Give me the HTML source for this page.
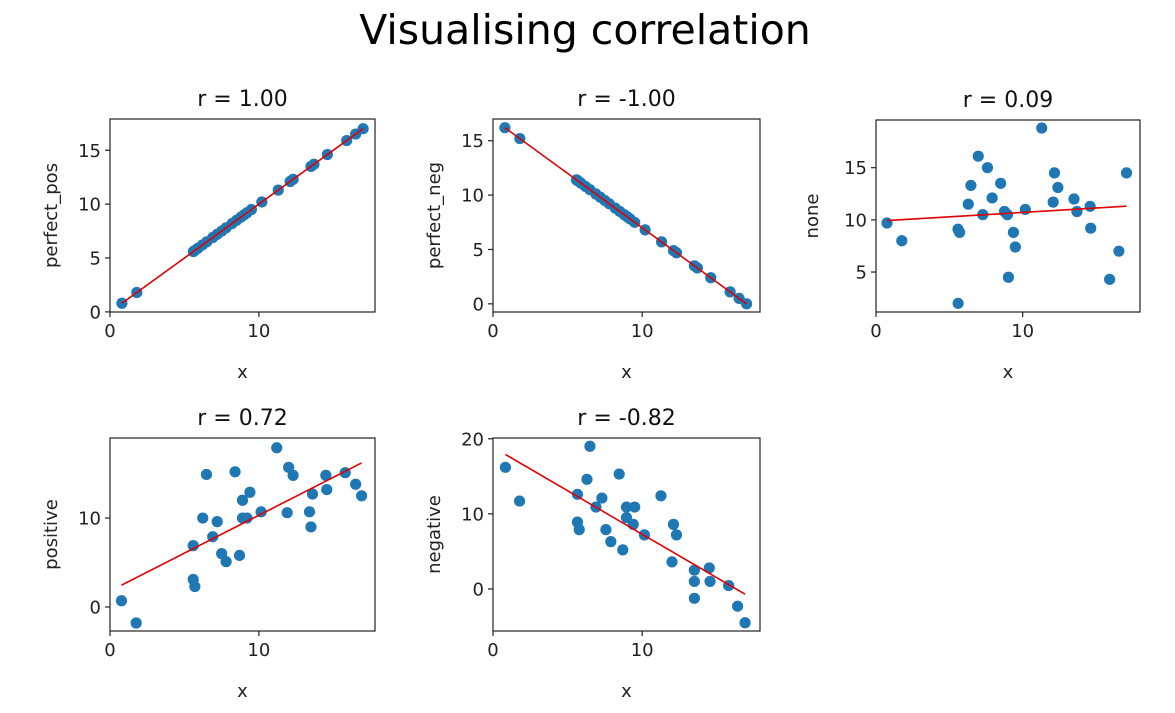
<!DOCTYPE html>
<html><head><meta charset="utf-8">
<style>
html,body{margin:0;padding:0;background:#fff;}
svg{display:block;font-family:"DejaVu Sans","Liberation Sans",sans-serif;}
</style></head>
<body>
<svg id="fig" width="1175" height="713" viewBox="0 0 1175 713" xmlns="http://www.w3.org/2000/svg">
<rect width="1175" height="713" fill="#fff"/>
<text x="585" y="44" font-size="41" text-anchor="middle" fill="#000">Visualising correlation</text>
</svg>
<script>
// ---- data ----
const xShared = [0.8,1.8,5.6,5.7,5.9,6.2,6.5,6.9,7.2,7.5,7.8,8.2,8.5,8.8,9.0,9.2,9.5,10.2,11.3,12.1,12.3,13.5,13.7,14.6,15.9,16.5,17.0];
const perfectPos = [0.8,1.8,5.6,5.7,5.9,6.2,6.5,6.9,7.2,7.5,7.8,8.2,8.5,8.8,9.0,9.2,9.5,10.2,11.3,12.1,12.3,13.5,13.7,14.6,15.9,16.5,17.0];
const perfectNeg = [16.2,15.2,11.4,11.3,11.1,10.8,10.5,10.1,9.8,9.5,9.2,8.8,8.5,8.2,8.0,7.8,7.5,6.8,5.7,4.9,4.7,3.5,3.3,2.4,1.1,0.5,0.0];
const noneX = [0.75,1.76,5.59,5.7,5.6,6.29,6.47,6.97,7.28,7.6,7.92,8.5,8.76,8.96,9.03,9.37,9.5,10.18,11.3,12.08,12.17,12.4,13.5,13.7,14.6,14.64,15.93,16.56,17.08];
const noneY = [9.7,8.0,9.1,8.8,2.0,11.5,13.3,16.1,10.5,15.0,12.1,13.5,10.8,10.5,4.5,8.8,7.4,11.0,18.8,11.7,14.5,13.1,12.0,10.8,11.3,9.2,4.3,7.0,14.5];
const posX = [0.77,1.76,5.59,5.59,5.7,6.23,6.48,7.2,6.9,7.5,7.8,8.4,8.7,8.9,8.9,9.2,9.4,10.15,11.2,11.9,12.0,12.3,13.4,13.5,13.6,14.5,14.56,15.8,16.5,16.9];
const posY = [0.7,-1.8,6.9,3.1,2.3,10.0,14.9,9.6,7.9,6.0,5.1,15.2,5.8,12.0,10.0,10.0,12.9,10.7,17.9,10.6,15.7,14.8,10.7,9.0,12.7,14.8,13.2,15.1,13.8,12.5];
const negX = [0.83,1.78,5.66,5.66,5.78,6.3,6.5,6.9,7.3,7.57,7.9,8.46,8.7,8.95,8.95,9.4,9.5,10.15,11.26,12.1,12.3,12.0,13.5,13.5,13.5,14.5,14.55,15.8,16.4,16.9];
const negY = [16.2,11.7,12.6,8.9,7.9,14.6,19.0,10.9,12.1,7.9,6.3,15.3,5.2,10.9,9.5,8.6,10.9,7.2,12.4,8.6,7.2,3.6,1.0,2.5,-1.25,2.8,1.0,0.45,-2.3,-4.5];
const titles = ["r = 1.00","r = -1.00","r = 0.09","r = 0.72","r = -0.82"];
const yLabels = ["perfect_pos","perfect_neg","none","positive","negative"];
const xTicks = [0,10];
const yTicks1 = [0,5,10,15];
const yTicks2 = [0,5,10,15];
const yTicks3 = [5,10,15];
const yTicks4 = [0,10];
const yTicks5 = [0,10,20];

const NS="http://www.w3.org/2000/svg";
const svg=document.getElementById('fig');
function mk(tag,attrs,parent){const e=document.createElementNS(NS,tag);for(const k in attrs)e.setAttribute(k,attrs[k]);(parent||svg).appendChild(e);return e;}

const panels=[
 {xs:xShared,ys:perfectPos,box:[110,119,375,312],xlim:[0,17.8],ylim:[-0.01,17.9],yt:yTicks1,name:'perfect-pos'},
 {xs:xShared,ys:perfectNeg,box:[493,119,760,312],xlim:[0,17.9],ylim:[-0.75,17.0],yt:yTicks2,name:'perfect-neg'},
 {xs:noneX,ys:noneY,box:[876,120,1140,312],xlim:[0,18],ylim:[1.17,19.57],yt:yTicks3,name:'none'},
 {xs:posX,ys:posY,box:[110,438,375,631],xlim:[0,17.8],ylim:[-2.7,19.0],yt:yTicks4,name:'positive'},
 {xs:negX,ys:negY,box:[493,438,760,631],xlim:[0,17.9],ylim:[-5.6,20.1],yt:yTicks5,name:'negative'}
];

panels.forEach((p,i)=>{
  const [L,T,R,B]=p.box;
  const g=mk('g',{});
  
  
  const sx=v=>L+(v-p.xlim[0])/(p.xlim[1]-p.xlim[0])*(R-L);
  const sy=v=>B-(v-p.ylim[0])/(p.ylim[1]-p.ylim[0])*(B-T);
  // points
  p.xs.forEach((x,j)=>{
    const c=mk('circle',{cx:sx(x),cy:sy(p.ys[j]),r:5.6,fill:'#1f77b4'},g);
    
    
  });
  // regression line
  const n=p.xs.length;let mx=0,my=0;p.xs.forEach((x,j)=>{mx+=x;my+=p.ys[j];});mx/=n;my/=n;
  let sxy=0,sxx=0;p.xs.forEach((x,j)=>{sxy+=(x-mx)*(p.ys[j]-my);sxx+=(x-mx)*(x-mx);});
  const b=sxy/sxx,a=my-b*mx;
  const x0=Math.min(...p.xs),x1=Math.max(...p.xs);
  const ln=mk('line',{x1:sx(x0),y1:sy(a+b*x0),x2:sx(x1),y2:sy(a+b*x1),stroke:'#e00000','stroke-width':1.6},g);
  
  
  // frame
  const fr=mk('rect',{x:L,y:T,width:R-L,height:B-T,fill:'none',stroke:'#222','stroke-width':1.2},g);
  
  
  // x ticks
  xTicks.forEach(t=>{
    const X=sx(t);
    mk('line',{x1:X,y1:B,x2:X,y2:B+5,stroke:'#222','stroke-width':1.2},g);
    const tx=mk('text',{x:X,y:B+25,'font-size':18,'text-anchor':'middle',fill:'#222'},g);
    tx.textContent=t;
    
    
  });
  // y ticks
  p.yt.forEach(t=>{
    const Y=sy(t);
    mk('line',{x1:L-5,y1:Y,x2:L,y2:Y,stroke:'#222','stroke-width':1.2},g);
    const tx=mk('text',{x:L-9,y:Y+6.5,'font-size':18,'text-anchor':'end',fill:'#222'},g);
    tx.textContent=t;
    
    
  });
  // title
  const tt=mk('text',{x:(L+R)/2,y:T-13,'font-size':22,'text-anchor':'middle',fill:'#111'},g);
  tt.textContent=titles[i];
  
  
  // x label
  const xl=mk('text',{x:(L+R)/2,y:B+66,'font-size':18,'text-anchor':'middle',fill:'#222'},g);
  xl.textContent='x';
  
  
  // y label
  const yx=L-(i===2?58:53), yc=(T+B)/2;
  const yl=mk('text',{x:yx,y:yc,'font-size':18,'text-anchor':'middle',fill:'#222',transform:`rotate(-90 ${yx} ${yc})`},g);
  yl.textContent=yLabels[i];
  
  
});
</script>
</body></html>
